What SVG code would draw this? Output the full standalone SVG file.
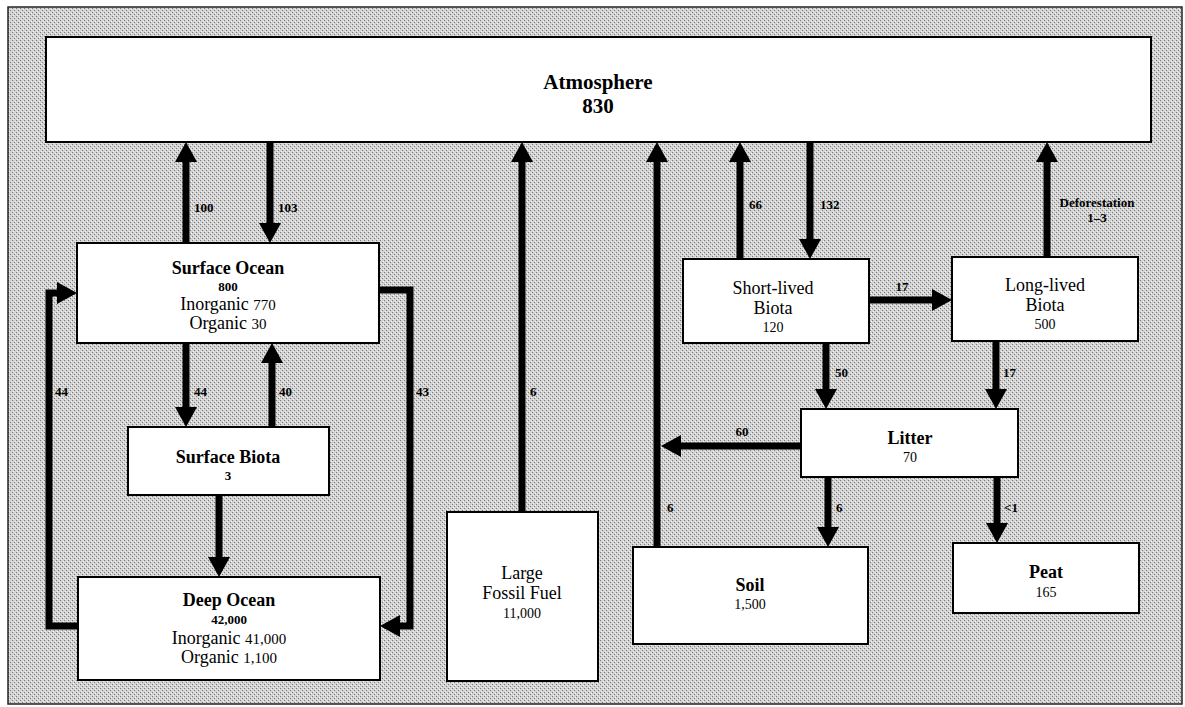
<svg xmlns="http://www.w3.org/2000/svg" width="1185" height="707" viewBox="0 0 1185 707">
<defs>
<pattern id="stipple" width="4" height="4" patternUnits="userSpaceOnUse">
<rect width="4" height="4" fill="#d2d2d2"/>
<rect x="0" y="0" width="1" height="1" fill="#7a7a7a"/>
<rect x="2" y="2" width="1" height="1" fill="#7a7a7a"/>
<rect x="1" y="3" width="1" height="1" fill="#f4f4f4"/>
<rect x="3" y="1" width="1" height="1" fill="#f4f4f4"/>
</pattern>
<marker id="ah" markerUnits="userSpaceOnUse" markerWidth="20" markerHeight="22" viewBox="0 0 20 22" refX="0" refY="11" orient="auto">
<path d="M0,0 L20,11 L0,22 z" fill="#000"/>
</marker>
<style>
.box{fill:#fff;stroke:#000;stroke-width:2}
.conn{fill:none;stroke:#000;stroke-width:7;stroke-linejoin:miter}
.arr{marker-end:url(#ah)}
text{font-family:"Liberation Serif","Times New Roman",serif;fill:#000}
.t{font-size:18px;font-weight:bold;text-anchor:middle}
.tn{font-size:18px;text-anchor:middle}
.v{font-size:13px;font-weight:bold;text-anchor:middle}
.vn{font-size:14px;text-anchor:middle}
.s{font-size:18px;text-anchor:middle}
.sm{font-size:15px}
.lab{font-size:13px;font-weight:bold}
.labc{font-size:13px;font-weight:bold;text-anchor:middle}
</style>
</defs>
<rect x="8" y="7" width="1174" height="697" fill="url(#stipple)" stroke="#222" stroke-width="1.5"/>

<g id="connectors">
<line class="conn arr" x1="186" y1="243" x2="186" y2="162"/>
<line class="conn arr" x1="270" y1="142" x2="270" y2="223"/>
<line class="conn arr" x1="186" y1="343" x2="186" y2="407"/>
<line class="conn arr" x1="272" y1="427" x2="272" y2="363"/>
<line class="conn arr" x1="219" y1="495" x2="219" y2="557"/>
<path class="conn arr" d="M78,626 H49 V293 H57"/>
<path class="conn arr" d="M379,290 H410 V626 H400"/>
<line class="conn arr" x1="522" y1="512" x2="522" y2="162"/>
<line class="conn arr" x1="657" y1="547" x2="657" y2="162"/>
<line class="conn arr" x1="740" y1="259" x2="740" y2="162"/>
<line class="conn arr" x1="810" y1="142" x2="810" y2="239"/>
<line class="conn arr" x1="1047" y1="257" x2="1047" y2="162"/>
<line class="conn arr" x1="869" y1="300" x2="932" y2="300"/>
<line class="conn arr" x1="826" y1="343" x2="826" y2="389"/>
<line class="conn arr" x1="996" y1="341" x2="996" y2="389"/>
<line class="conn arr" x1="801" y1="446" x2="681" y2="446"/>
<line class="conn arr" x1="828" y1="477" x2="828" y2="527"/>
<line class="conn arr" x1="997" y1="477" x2="997" y2="523"/>
<g id="connector-labels">
<text class="lab" x="194" y="212">100</text>
<text class="lab" x="278" y="212">103</text>
<text class="lab" x="194" y="396">44</text>
<text class="lab" x="279" y="396">40</text>
<text class="lab" x="55" y="396">44</text>
<text class="lab" x="416" y="396">43</text>
<text class="lab" x="530" y="396">6</text>
<text class="lab" x="749" y="209">66</text>
<text class="lab" x="820" y="209">132</text>
<text class="labc" x="1097" y="207">Deforestation</text>
<text class="labc" x="1097" y="222">1–3</text>
<text class="labc" x="902" y="291">17</text>
<text class="lab" x="835" y="377">50</text>
<text class="lab" x="1003" y="377">17</text>
<text class="labc" x="742" y="436">60</text>
<text class="lab" x="667" y="512">6</text>
<text class="lab" x="836" y="512">6</text>
<text class="lab" x="1004" y="512">&lt;1</text>
</g>
</g>

<g id="atmosphere">
<rect class="box" x="46" y="37" width="1105" height="105"/>
<text class="t" x="598" y="89" style="font-size:21px">Atmosphere</text>
<text class="t" x="598" y="113" style="font-size:21px">830</text>
</g>

<g id="surface-ocean">
<rect class="box" x="77" y="243" width="302" height="100"/>
<text class="t" x="228" y="274">Surface Ocean</text>
<text class="v" x="228" y="291">800</text>
<text class="s" x="228" y="310">Inorganic <tspan class="sm">770</tspan></text>
<text class="s" x="228" y="329">Organic <tspan class="sm">30</tspan></text>
</g>

<g id="surface-biota">
<rect class="box" x="128" y="427" width="201" height="68"/>
<text class="t" x="228" y="463">Surface Biota</text>
<text class="v" x="228" y="480">3</text>
</g>

<g id="deep-ocean">
<rect class="box" x="78" y="577" width="302" height="103"/>
<text class="t" x="229" y="606">Deep Ocean</text>
<text class="v" x="229" y="624">42,000</text>
<text class="s" x="229" y="644">Inorganic <tspan class="sm">41,000</tspan></text>
<text class="s" x="229" y="663">Organic <tspan class="sm">1,100</tspan></text>
</g>

<g id="fossil-fuel">
<rect class="box" x="447" y="512" width="151" height="169"/>
<text class="tn" x="522" y="579">Large</text>
<text class="tn" x="522" y="599">Fossil Fuel</text>
<text class="vn" x="522" y="618">11,000</text>
</g>

<g id="soil">
<rect class="box" x="633" y="547" width="235" height="97"/>
<text class="t" x="750" y="591">Soil</text>
<text class="vn" x="750" y="609">1,500</text>
</g>

<g id="short-lived-biota">
<rect class="box" x="683" y="259" width="186" height="84"/>
<text class="tn" x="773" y="294">Short-lived</text>
<text class="tn" x="773" y="314">Biota</text>
<text class="vn" x="773" y="332">120</text>
</g>

<g id="long-lived-biota">
<rect class="box" x="952" y="257" width="186" height="84"/>
<text class="tn" x="1045" y="291">Long-lived</text>
<text class="tn" x="1045" y="311">Biota</text>
<text class="vn" x="1045" y="329">500</text>
</g>

<g id="litter">
<rect class="box" x="801" y="409" width="217" height="68"/>
<text class="t" x="910" y="444">Litter</text>
<text class="vn" x="910" y="462">70</text>
</g>

<g id="peat">
<rect class="box" x="953" y="543" width="186" height="70"/>
<text class="t" x="1046" y="578">Peat</text>
<text class="vn" x="1046" y="597">165</text>
</g>
</svg>
